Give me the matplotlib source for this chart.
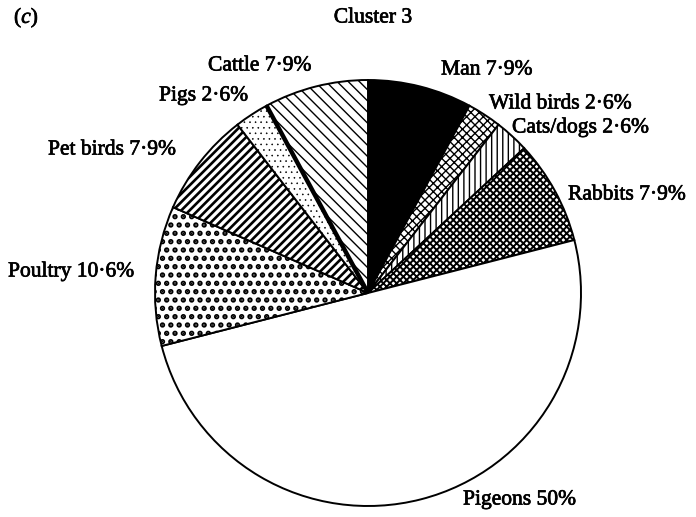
import matplotlib
matplotlib.use("Agg")
import matplotlib.pyplot as plt
import matplotlib.patheffects as pe
import numpy as np

# ---- data ----
categories = ["Man", "Wild birds", "Cats/dogs", "Rabbits", "Pigeons",
              "Poultry", "Pet birds", "Pigs", "Cattle"]
values = [7.9, 2.6, 2.6, 7.9, 50.0, 10.6, 7.9, 2.6, 7.9]
value_labels = ["7·9%", "2·6%", "2·6%", "7·9%", "50%", "10·6%", "7·9%", "2·6%", "7·9%"]
title = "Cluster 3"
panel_letter = "c"

# ---- styles ----
hatches = [None, "xxxx", "|||", "xxxxx", None, "..", "////", "...", "\\\\\\"]
faces = ["black", "white", "white", "white", "white", "white", "white", "white", "white"]
hatch_lw = [1.0, 1.0, 1.0, 1.4, 1.0, 2.6, 1.9, 0.4, 1.0]
# label positions in pixels (left x, center y)
label_pos = [(441, 70), (489, 104), (512, 128), (568, 195), (463, 500),
             (8, 272), (48, 150), (159, 96), (208, 66)]

plt.rcParams["mathtext.fontset"] = "custom"
plt.rcParams["mathtext.rm"] = "Liberation Serif"
plt.rcParams["mathtext.it"] = "Liberation Serif:italic"

W, H = 696, 517
fig = plt.figure(figsize=(W / 100, H / 100), dpi=100)
cx, cy, r = 368, 293, 213
ax = fig.add_axes([(cx - r) / W, (H - cy - r) / H, 2 * r / W, 2 * r / H])

wedges, _ = ax.pie(values, startangle=90, counterclock=False,
                   colors=faces, radius=1.0,
                   wedgeprops=dict(edgecolor="black", linewidth=1.4))
for w, h, lw in zip(wedges, hatches, hatch_lw):
    if h:
        w.set_hatch(h)
        try:
            w.set_hatch_linewidth(lw)
        except Exception:
            pass

# thick boundary between Pigs and Cattle
cum = np.cumsum(values) / np.sum(values)
i_pigs = categories.index("Pigs")
ang = np.deg2rad(90 - 360 * cum[i_pigs])
ax.plot([0, np.cos(ang)], [0, np.sin(ang)], color="black", lw=3.2,
        solid_capstyle="butt", zorder=5)

ax.set_xlim(-1, 1)
ax.set_ylim(-1, 1)
ax.set_aspect("auto")
ax.axis("off")

font = dict(family="Liberation Serif", fontsize=15.5, color="black",
            path_effects=[pe.withStroke(linewidth=0.5, foreground="black")])
for cat, lab, (px, py) in zip(categories, value_labels, label_pos):
    fig.text(px / W, 1 - py / H, f"{cat} {lab}", ha="left", va="center", **font)

fig.text(373 / W, 1 - 18 / H, title, ha="center", va="center", **font)
fig.text(14 / W, 1 - 18 / H, r"($\mathit{" + panel_letter + r"}$)",
         ha="left", va="center", **font)

fig.savefig("out.png", dpi=100, facecolor="white")
